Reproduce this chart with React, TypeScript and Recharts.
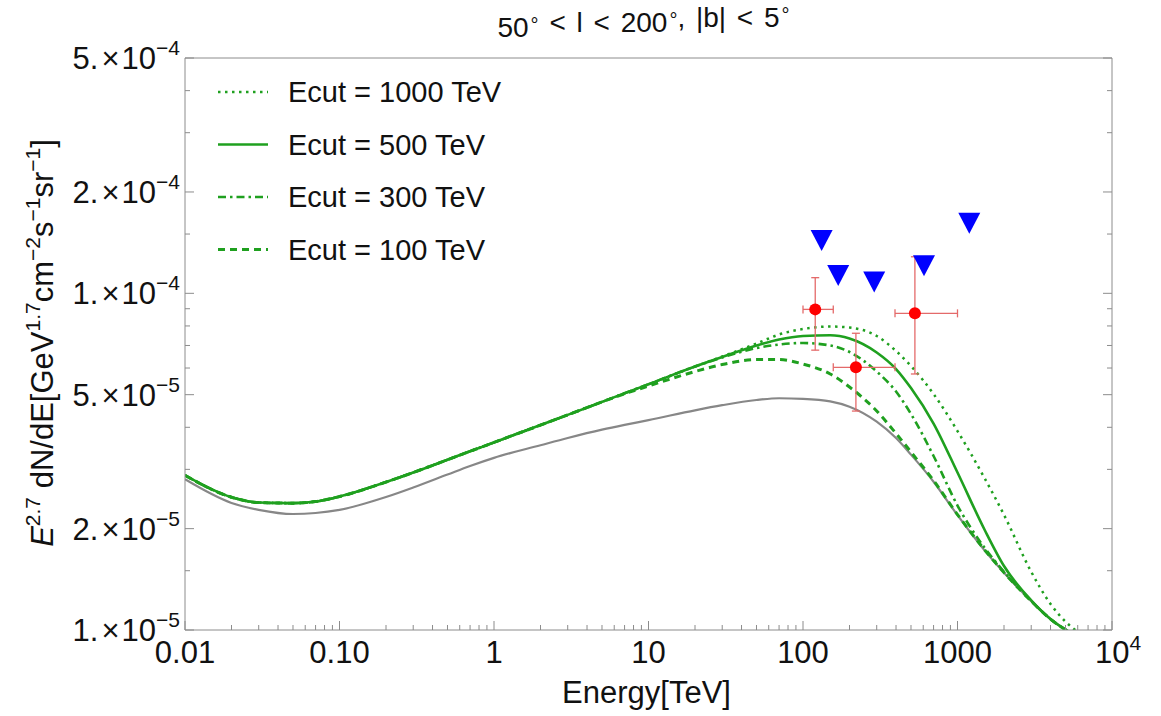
import React from 'react';
import { ComposedChart, Line, Scatter, XAxis, YAxis, ErrorBar, Legend, Label } from 'recharts';

const W = 1161;
const H = 716;
const PLOT_LEFT = 185;
const PLOT_TOP = 58;
const PLOT_RIGHT = 1112;
const PLOT_BOTTOM = 630;

const GREEN = '#1fa01f';
const GREY = '#878787';
const AXIS = '#8c8c8c';
const FONT = '"Liberation Sans", Arial, Helvetica, sans-serif';

// energy grid of the model curves, TeV
const energy = [
  0.01, 0.02, 0.03, 0.05, 0.07, 0.1, 0.2, 0.3, 0.5, 0.7, 1, 2, 3, 5, 7, 10, 20, 30, 50, 70, 100,
  150, 200, 300, 400, 500, 700, 1000, 1500, 2000, 3000, 4000, 5000, 6000,
];

// E^2.7 dN/dE in units of 1e-5 GeV^1.7 cm^-2 s^-1 sr^-1
const background = [
  2.803, 2.384, 2.275, 2.211, 2.226, 2.275, 2.483, 2.65, 2.896, 3.07, 3.246, 3.538, 3.718, 3.937,
  4.068, 4.201, 4.493, 4.653, 4.821, 4.88, 4.861, 4.775, 4.604, 4.156, 3.716, 3.318, 2.757, 2.193,
  1.721, 1.479, 1.218, 1.077, 1.002, 0.957,
];
const cut1000 = [
  2.88, 2.48, 2.391, 2.381, 2.407, 2.491, 2.75, 2.936, 3.204, 3.394, 3.607, 4.061, 4.354, 4.759,
  5.047, 5.37, 6.062, 6.492, 7.094, 7.545, 7.834, 7.969, 7.914, 7.468, 6.741, 6.083, 5.023, 3.899,
  2.82, 2.198, 1.489, 1.195, 1.059, 0.986,
];
const cut500 = [
  2.88, 2.48, 2.391, 2.381, 2.407, 2.491, 2.75, 2.936, 3.204, 3.394, 3.607, 4.061, 4.354, 4.759,
  5.047, 5.37, 6.062, 6.47, 6.998, 7.292, 7.468, 7.508, 7.343, 6.673, 5.959, 5.232, 4.105, 2.936,
  1.982, 1.549, 1.225, 1.078, 1.002, 0.957,
];
const cut300 = [
  2.88, 2.48, 2.391, 2.381, 2.407, 2.491, 2.75, 2.936, 3.204, 3.394, 3.607, 4.061, 4.354, 4.759,
  5.047, 5.37, 6.062, 6.447, 6.879, 7.046, 7.119, 6.998, 6.696, 5.857, 5.11, 4.381, 3.287, 2.343,
  1.752, 1.489, 1.22, 1.077, 1.002, 0.957,
];
const cut100 = [
  2.88, 2.48, 2.391, 2.381, 2.407, 2.491, 2.75, 2.936, 3.204, 3.394, 3.607, 4.061, 4.354, 4.759,
  5.03, 5.305, 5.857, 6.145, 6.359, 6.359, 6.166, 5.76, 5.268, 4.472, 3.834, 3.378, 2.78, 2.203,
  1.729, 1.481, 1.218, 1.077, 1.002, 0.957,
];

// measured flux points (energy in TeV, flux in 1e-5 units, errors as offsets)
const pointE = [120, 220, 530];
const pointFlux = [8.96, 6.03, 8.72];
const pointELow = [20, 63, 136];
const pointEHigh = [37, 174, 470];
const pointFluxLow = [2.18, 1.56, 2.96];
const pointFluxHigh = [2.17, 1.58, 4.12];

// upper limits
const limitE = [132, 169, 289, 607, 1192];
const limitFlux = [14.35, 11.29, 10.8, 12.08, 16.14];

// axis ticks
const xMajor = [0.01, 0.1, 1, 10, 100, 1000, 10000];
const xMajorLabels = ['0.01', '0.10', '1', '10', '100', '1000', ''];
const minorSteps = [2, 3, 4, 5, 6, 7, 8, 9];
const xTicks = [
  ...xMajor,
  ...xMajor.slice(0, -1).flatMap((d) => minorSteps.map((m) => m * d)),
].sort((a, b) => a - b);

const yMajor = [1e-5, 2e-5, 5e-5, 1e-4, 2e-4, 5e-4];
const yMantissa = ['1', '2', '5', '1', '2', '5'];
const yExponent = ['5', '5', '5', '4', '4', '4'];
const yMinor = [1.5e-5, 3e-5, 4e-5, 6e-5, 7e-5, 8e-5, 9e-5, 1.5e-4, 3e-4, 4e-4];
const yTicks = [...yMajor, ...yMinor].sort((a, b) => a - b);

const UNIT = 1e-5;

const curveRows = energy.map((E, i) => ({
  E,
  bg: background[i] * UNIT,
  c1000: cut1000[i] * UNIT,
  c500: cut500[i] * UNIT,
  c300: cut300[i] * UNIT,
  c100: cut100[i] * UNIT,
}));

const pointRows = pointE.map((E, i) => ({
  E,
  flux: pointFlux[i] * UNIT,
  xErr: [pointELow[i], pointEHigh[i]],
  yErr: [pointFluxLow[i] * UNIT, pointFluxHigh[i] * UNIT],
}));

const limitRows = limitE.map((E, i) => ({ E, flux: limitFlux[i] * UNIT }));

const legendItems = [
  { label: 'Ecut = 1000 TeV', dash: '2.5 4.5', width: 2.5 },
  { label: 'Ecut = 500 TeV', dash: undefined, width: 2.6 },
  { label: 'Ecut = 300 TeV', dash: '8 4 2.5 4', width: 2.6 },
  { label: 'Ecut = 100 TeV', dash: '7 5', width: 3 },
];

const majorIndex = (v: number, list: number[]) =>
  list.findIndex((m) => Math.abs(Math.log10(v / m)) < 1e-6);

const BottomTick = (props: any) => {
  const { x, y, payload } = props;
  const i = majorIndex(payload.value, xMajor);
  const len = i >= 0 ? 9 : 5;
  return (
    <g>
      <line x1={x} x2={x} y1={y} y2={y - len} stroke={AXIS} strokeWidth={1} />
      {i >= 0 && i < xMajor.length - 1 && (
        <text x={x} y={y + 33} textAnchor="middle" fontSize={31} fontFamily={FONT} fill="#111">
          {xMajorLabels[i]}
        </text>
      )}
      {i === xMajor.length - 1 && (
        <text x={x - 17} y={y + 33} fontSize={31} fontFamily={FONT} fill="#111">
          10
          <tspan dy={-13} fontSize={21}>
            4
          </tspan>
        </text>
      )}
    </g>
  );
};

const TopTick = (props: any) => {
  const { x, y, payload } = props;
  const len = majorIndex(payload.value, xMajor) >= 0 ? 9 : 5;
  return <line x1={x} x2={x} y1={y} y2={y + len} stroke={AXIS} strokeWidth={1} />;
};

const LeftTick = (props: any) => {
  const { x, y, payload } = props;
  const i = majorIndex(payload.value, yMajor);
  const len = i >= 0 ? 9 : 5;
  return (
    <g>
      <line x1={x} x2={x + len} y1={y} y2={y} stroke={AXIS} strokeWidth={1} />
      {i >= 0 && (
        <text x={x - 5} y={y + 11} textAnchor="end" fontSize={31} fontFamily={FONT} fill="#111">
          {yMantissa[i]}.
          <tspan dx={3}>×</tspan>
          <tspan dx={2}>10</tspan>
          <tspan dy={-14} fontSize={21}>
            −{yExponent[i]}
          </tspan>
        </text>
      )}
    </g>
  );
};

const RightTick = (props: any) => {
  const { x, y, payload } = props;
  const len = majorIndex(payload.value, yMajor) >= 0 ? 9 : 5;
  return <line x1={x} x2={x - len} y1={y} y2={y} stroke={AXIS} strokeWidth={1} />;
};

const SUP = 13;

const YTitle = () => (
  <text
    transform={`translate(53, ${(PLOT_TOP + PLOT_BOTTOM) / 2 - 1}) rotate(-90)`}
    textAnchor="middle"
    fontSize={31}
    fontFamily={FONT}
    fill="#111"
    style={{ whiteSpace: 'pre' }}
  >
    <tspan fontStyle="italic">E</tspan>
    <tspan dy={-SUP} fontSize={21}>2.7</tspan>
    <tspan dy={SUP}> dN/dE[GeV</tspan>
    <tspan dy={-SUP} fontSize={21}>1.7</tspan>
    <tspan dy={SUP}>cm</tspan>
    <tspan dy={-SUP} fontSize={21}>−2</tspan>
    <tspan dy={SUP}>s</tspan>
    <tspan dy={-SUP} fontSize={21}>−1</tspan>
    <tspan dy={SUP}>sr</tspan>
    <tspan dy={-SUP} fontSize={21}>−1</tspan>
    <tspan dy={SUP}>]</tspan>
  </text>
);

const Deg = () => (
  <>
    <tspan dx={2} dy={-5} fontSize={20}>°</tspan>
    <tspan dy={5}></tspan>
  </>
);

const Title = () => (
  <text
    x={(PLOT_LEFT + PLOT_RIGHT) / 2 - 5}
    y={37}
    textAnchor="middle"
    fontSize={28}
    fontFamily={FONT}
    fill="#111"
    wordSpacing={3}
    style={{ whiteSpace: 'pre' }}
  >
    <tspan>50</tspan>
    <Deg />
    <tspan> &lt; l &lt; 200</tspan>
    <Deg />
    <tspan>, |b| &lt; 5</tspan>
    <Deg />
  </text>
);

const XTitle = () => (
  <text x={(PLOT_LEFT + PLOT_RIGHT) / 2 - 2} y={703} textAnchor="middle" fontSize={31} fontFamily={FONT} fill="#111">
    Energy[TeV]
  </text>
);

const LegendBox = () => (
  <svg width={340} height={210}>
    {legendItems.map((item, i) => {
      const cy = 26 + i * 52.5;
      return (
        <g key={item.label}>
          <line
            x1={8}
            x2={58}
            y1={cy}
            y2={cy}
            stroke={GREEN}
            strokeWidth={item.width}
            strokeDasharray={item.dash}
          />
          <text x={78} y={cy + 10} fontSize={29} fontFamily={FONT} fill="#111">
            {item.label}
          </text>
        </g>
      );
    })}
  </svg>
);

const DownTriangle = (props: any) => {
  const { cx, cy } = props;
  if (cx == null || cy == null) return <g />;
  return <polygon points={`${cx - 11},${cy - 10.5} ${cx + 11},${cy - 10.5} ${cx},${cy + 10.5}`} fill="#0000ff" />;
};

const RedDot = (props: any) => {
  const { cx, cy } = props;
  if (cx == null || cy == null) return <g />;
  return <circle cx={cx} cy={cy} r={6} fill="#ff0000" />;
};

export default function App() {
  return (
    <div style={{ position: 'absolute', left: 0, top: 0, width: W, height: H, background: '#fff' }}>
      <ComposedChart
        width={W}
        height={H}
        data={curveRows}
        margin={{ top: PLOT_TOP - 1, right: W - PLOT_RIGHT - 1, bottom: H - PLOT_BOTTOM - 80, left: PLOT_LEFT - 180 }}
      >
        <XAxis
          dataKey="E"
          type="number"
          scale="log"
          domain={[0.01, 10000]}
          allowDataOverflow
          ticks={xTicks}
          interval={0}
          tickSize={0}
          tickMargin={0}
          height={80}
          tick={BottomTick}
          axisLine={{ stroke: AXIS }}
        >
          <Label content={XTitle} />
        </XAxis>
        <XAxis
          xAxisId="top"
          orientation="top"
          type="number"
          scale="log"
          domain={[0.01, 10000]}
          allowDataOverflow
          ticks={xTicks}
          interval={0}
          tickSize={0}
          tickMargin={0}
          height={1}
          tick={TopTick}
          axisLine={{ stroke: AXIS }}
        >
          <Label content={Title} />
        </XAxis>
        <YAxis
          type="number"
          scale="log"
          domain={[1e-5, 5e-4]}
          allowDataOverflow
          ticks={yTicks}
          interval={0}
          tickSize={0}
          tickMargin={0}
          width={180}
          tick={LeftTick}
          axisLine={{ stroke: AXIS }}
        >
          <Label content={YTitle} />
        </YAxis>
        <YAxis
          yAxisId="right"
          orientation="right"
          type="number"
          scale="log"
          domain={[1e-5, 5e-4]}
          allowDataOverflow
          ticks={yTicks}
          interval={0}
          tickSize={0}
          tickMargin={0}
          width={1}
          tick={RightTick}
          axisLine={{ stroke: AXIS }}
        />
        <Legend
          layout="vertical"
          align="center"
          verticalAlign="middle"
          content={LegendBox}
          wrapperStyle={{ left: 210, top: 66, width: 340, height: 210 }}
        />
        <Line dataKey="bg" type="monotone" stroke={GREY} strokeWidth={2.2} dot={false} activeDot={false} isAnimationActive={false} />
        <Line dataKey="c100" type="monotone" stroke={GREEN} strokeWidth={3} strokeDasharray="7 5" dot={false} activeDot={false} isAnimationActive={false} />
        <Line dataKey="c300" type="monotone" stroke={GREEN} strokeWidth={2.6} strokeDasharray="8 4 2.5 4" dot={false} activeDot={false} isAnimationActive={false} />
        <Line dataKey="c500" type="monotone" stroke={GREEN} strokeWidth={2.6} dot={false} activeDot={false} isAnimationActive={false} />
        <Line dataKey="c1000" type="monotone" stroke={GREEN} strokeWidth={2.5} strokeDasharray="2.5 4.5" dot={false} activeDot={false} isAnimationActive={false} />
        <Scatter data={pointRows} dataKey="flux" shape={RedDot} isAnimationActive={false}>
          <ErrorBar dataKey="yErr" direction="y" stroke="#e46a6a" strokeWidth={1.3} width={4} isAnimationActive={false} />
          <ErrorBar dataKey="xErr" direction="x" stroke="#e46a6a" strokeWidth={1.3} width={4} isAnimationActive={false} />
        </Scatter>
        <Scatter data={limitRows} dataKey="flux" shape={DownTriangle} isAnimationActive={false} />
      </ComposedChart>
    </div>
  );
}
